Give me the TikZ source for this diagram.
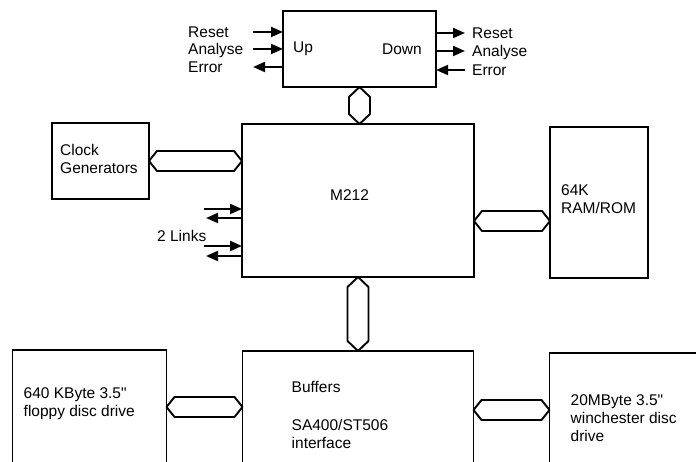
\documentclass[tikz,border=0pt]{standalone}
\usepackage{fontspec}
\setmainfont{Liberation Sans}[Ligatures=TeXOff]
\usetikzlibrary{arrows.meta, positioning, calc}

% bus between two boxes: horizontal (left to right) and vertical (top to bottom)
\newcommand{\hbus}[2]{%
  \draw[bus] (#1) -- ($(#1)+(8,10)$) -- ($(#2)+(-8,10)$) -- (#2)
    -- ($(#2)+(-8,-10)$) -- ($(#1)+(8,-10)$) -- cycle;}
\newcommand{\vbus}[2]{%
  \draw[bus] (#1) -- ($(#1)+(10.5,-10)$) -- ($(#2)+(10.5,10)$) -- (#2)
    -- ($(#2)+(-10.5,10)$) -- ($(#1)+(-10.5,-10)$) -- cycle;}

\begin{document}
\begin{tikzpicture}[
  x=1pt, y=1pt,
  box/.style={rectangle, draw=black, line width=1.9pt, inner sep=0pt, outer sep=0pt},
  bus/.style={draw=black, line width=1.9pt, line join=round},
  txt/.style={font=\fontsize{15.5pt}{18pt}\selectfont, align=left, inner sep=0pt},
  sigl/.style={txt, text height=11pt, text depth=0pt, anchor=west},
  sig/.style={-{Triangle[length=12pt, width=10pt]}, line width=1.9pt}
]
  \useasboundingbox (0,0) rectangle (696,-462);
  \clip (0,0) rectangle (696,-462);

  % Boxes
  \node[box, minimum width=232pt, minimum height=153pt] (m212) at (358,-200.5) {};
  \node[box, minimum width=153pt, minimum height=76pt, above=37pt of m212, xshift=1.5pt] (ud) {};
  \node[box, minimum width=98pt, minimum height=151pt, right=76pt of m212, yshift=-2pt] (ram) {};
  \node[box, minimum width=97pt, minimum height=76pt] (clk) at (100.5,-161) {};
  \node[box, minimum width=231pt, minimum height=118pt, below=74pt of m212] (buf) {};
  \node[box, minimum width=154pt, minimum height=114pt, left=76pt of buf, yshift=3pt] (fdd) {};
  \node[box, minimum width=171pt, minimum height=114pt, right=76pt of buf] (hdd) {};

  % Texts in the boxes
  \node[txt, right=10pt of ud.west] (up) {Up};
  \node[txt, left=14pt of ud.east] (down) {Down};
  \node[txt, right=88pt of m212.west, yshift=5pt] (m212t) {M212};
  \node[txt, right=8pt of clk.west, yshift=2pt] (clkt) {Clock\\Generators};
  \node[txt, right=11pt of ram.west, yshift=3pt] (ramt) {64K\\RAM/ROM};
  \node[txt, right=11pt of fdd.west, yshift=3.5pt] (fddt) {640 KByte 3.5"\\floppy disc drive};
  \node[txt, right=49pt of buf.west, yshift=-4.5pt] (buft) {Buffers\\[20pt]SA400/ST506\\interface};
  \node[txt, right=21pt of hdd.west, yshift=-8.5pt] (hddt) {20MByte 3.5"\\winchester disc\\drive};

  % Buses
  \coordinate (ramport) at ($(ram.west)+(0,-18.5)$);
  \vbus{ud.south}{m212.north -| ud.south}
  \hbus{clk.east}{m212.west |- clk.east}
  \hbus{m212.east |- ramport}{ramport}
  \vbus{m212.south}{buf.north -| m212.south}
  \hbus{fdd.east}{buf.west |- fdd.east}
  \hbus{buf.east |- hdd.west}{hdd.west}

  % Up / Down signals
  \node[sigl] (rstU) at (188,-32) {Reset};
  \node[sigl] (anaU) at (188,-49) {Analyse};
  \node[sigl] (errU) at (188,-67) {Error};
  \node[sigl] (rstD) at (472,-33) {Reset};
  \node[sigl] (anaD) at (472,-51) {Analyse};
  \node[sigl] (errD) at (472,-70) {Error};
  \coordinate (tailU) at (253,0);
  \coordinate (tailD) at (465,0);
  \draw[sig] (tailU |- rstU) -- (ud.west |- rstU);
  \draw[sig] (tailU |- anaU) -- (ud.west |- anaU);
  \draw[sig] (ud.west |- errU) -- (tailU |- errU);
  \draw[sig] (ud.east |- rstD) -- (tailD |- rstD);
  \draw[sig] (ud.east |- anaD) -- (tailD |- anaD);
  \draw[sig] (tailD |- errD) -- (ud.east |- errD);

  % Links
  \node[txt, anchor=west] (links) at (157,-236) {2 Links};
  \coordinate (lk1) at (204,-209);
  \coordinate (lk2) at (206,-218);
  \coordinate (lk3) at (204,-246);
  \coordinate (lk4) at (206,-256);
  \draw[sig] (lk1) -- (m212.west |- lk1);
  \draw[sig] (m212.west |- lk2) -- (lk2);
  \draw[sig] (lk3) -- (m212.west |- lk3);
  \draw[sig] (m212.west |- lk4) -- (lk4);
\end{tikzpicture}
\end{document}
